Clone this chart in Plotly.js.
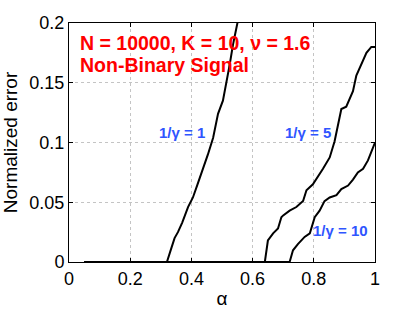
<!DOCTYPE html>
<html><head><meta charset="utf-8">
<script src="https://cdn.plot.ly/plotly-3.0.1.min.js"></script>
<style>html,body{margin:0;padding:0;background:#fff}#c{width:415px;height:309px}</style>
</head><body><div id="c"></div>
<script>
const alpha1 = [0.05,0.30,0.32,0.335,0.345,0.356,0.37,0.389,0.405,0.42,0.438,0.454,0.471,0.487,0.503,0.515,0.525,0.536,0.55,0.56];
const err1   = [0,0,0,0.012,0.02,0.025,0.033,0.046,0.054,0.065,0.078,0.090,0.104,0.124,0.135,0.15,0.165,0.182,0.2,0.212];
const alpha5 = [0.05,0.63,0.64,0.65,0.667,0.683,0.694,0.70,0.721,0.743,0.765,0.776,0.797,0.83,0.852,0.868,0.879,0.89,0.906,0.917,0.928,0.939,0.955,0.972,0.988,1.0];
const err5   = [0,0,0,0.018,0.024,0.028,0.0375,0.039,0.043,0.046,0.051,0.060,0.065,0.078,0.0875,0.101,0.115,0.128,0.13,0.137,0.143,0.156,0.165,0.175,0.18,0.18];
const alpha10 = [0.05,0.715,0.721,0.732,0.748,0.77,0.787,0.803,0.819,0.835,0.852,0.874,0.89,0.912,0.928,0.944,0.961,0.977,1.0];
const err10   = [0,0,0,0.0098,0.015,0.021,0.024,0.0375,0.043,0.051,0.054,0.056,0.061,0.064,0.069,0.075,0.078,0.085,0.1];
const xTicks = [0,0.2,0.4,0.6,0.8,1];
const xTickText = ['0','0.2','0.4','0.6','0.8','1'];
const yTicks = [0,0.05,0.1,0.15,0.2];
const yTickText = ['0','0.05','0.1','0.15','0.2'];
const curveLabels = ['1/γ = 1','1/γ = 5','1/γ = 10'];
const labelX = [0.37,0.78,0.887];
const labelY = [0.108,0.108,0.026];
const titleLines = ['N = 10000, K = 10, ν = 1.6','Non-Binary Signal'];

const line = {color:'#000', width:2};
const traces = [
  {x:alpha1, y:err1, mode:'lines', line:line},
  {x:alpha5, y:err5, mode:'lines', line:line},
  {x:alpha10, y:err10, mode:'lines', line:line}
];
const fam = 'Liberation Sans, Arial, sans-serif';
const ann = [];
for (let i=0;i<curveLabels.length;i++){
  ann.push({x:labelX[i], y:labelY[i], text:'<b>'+curveLabels[i]+'</b>', showarrow:false, xref:'x', yref:'y',
    font:{family:fam, size:15, color:'#2f55ff'}});
}
const tY = [0.183,0.165];
for (let i=0;i<titleLines.length;i++){
  ann.push({x:0.029, y:tY[i], text:'<b>'+titleLines[i]+'</b>', showarrow:false, xanchor:'left', xref:'x', yref:'y',
    font:{family:fam, size:19.5, color:'#ff0000'}});
}
const axisCommon = {showline:true, linecolor:'#000', linewidth:1, mirror:'ticks', ticks:'inside', ticklen:4,
  tickcolor:'#000', showgrid:true, gridcolor:'#c4c4c4', griddash:'dot', gridwidth:1, zeroline:false,
  tickfont:{family:fam, size:18, color:'#000'}};
const layout = {
  width:415, height:309, margin:{l:69, r:40, t:23, b:47},
  paper_bgcolor:'#fff', plot_bgcolor:'#fff', showlegend:false,
  xaxis: Object.assign({}, axisCommon, {range:[0,1], tickvals:xTicks, ticktext:xTickText,
     title:{text:'α', font:{family:fam, size:19, color:'#000'}, standoff:4}}),
  yaxis: Object.assign({}, axisCommon, {range:[0,0.2], tickvals:yTicks, ticktext:yTickText,
     title:{text:'Normalized error', font:{family:fam, size:19, color:'#000'}, standoff:8}}),
  annotations: ann
};
Plotly.newPlot('c', traces, layout, {displayModeBar:false, staticPlot:true});
</script></body></html>
